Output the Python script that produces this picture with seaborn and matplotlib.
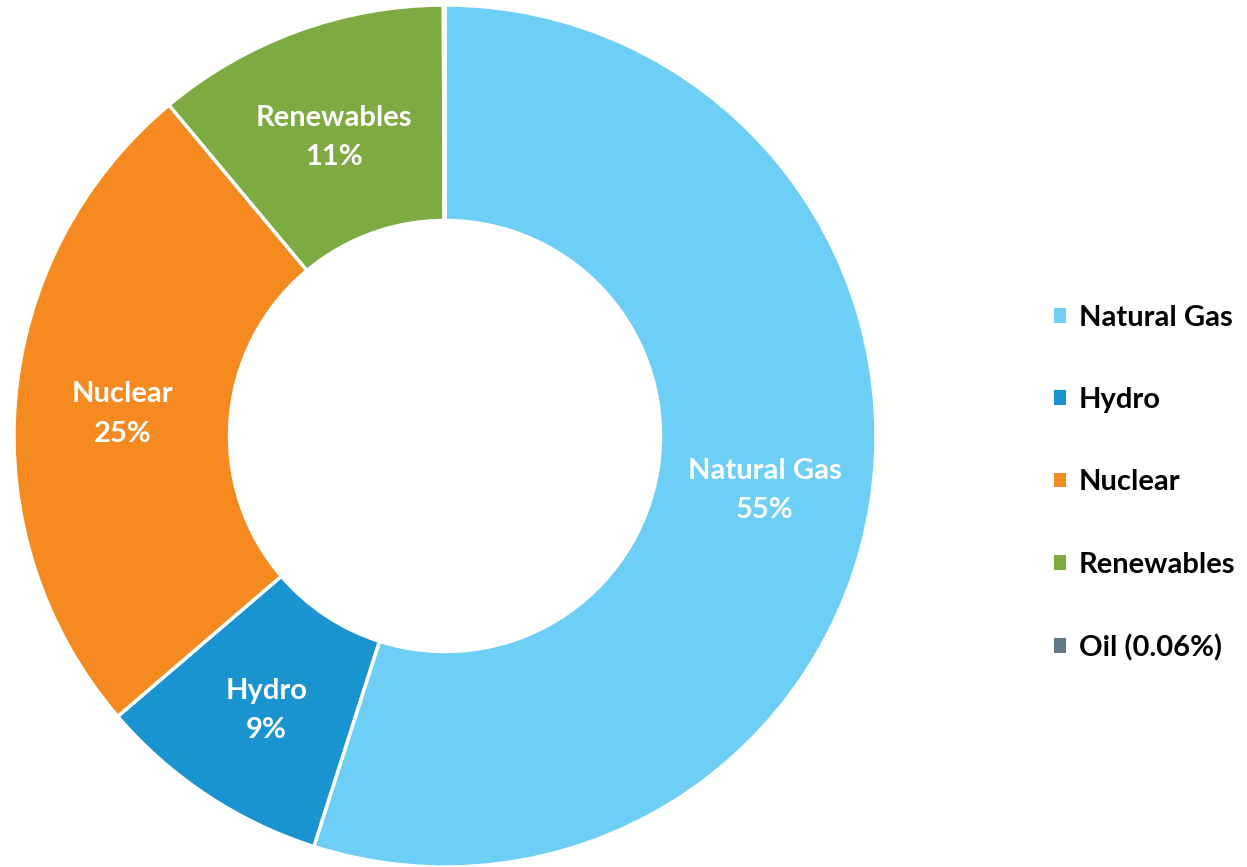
import matplotlib
matplotlib.use("Agg")
import matplotlib.pyplot as plt
import matplotlib.transforms as mtransforms
import seaborn as sns
from matplotlib.patches import Patch

sns.set_theme(style="white")
plt.rcParams['font.family'] = ['Lato', 'DejaVu Sans']

categories = ["Natural Gas", "Hydro", "Nuclear", "Renewables", "Oil"]
values = [54.9, 8.8, 25.2, 11.0, 0.06]
legend_labels = ["Natural Gas", "Hydro", "Nuclear", "Renewables", "Oil (0.06%)"]
slice_labels = ["Natural Gas\n55%", "Hydro\n9%", "Nuclear\n25%", "Renewables\n11%", ""]
colors = sns.color_palette(["#6DCFF6", "#1A94D1", "#F58A20", "#7DAB41", "#627985"])

fig = plt.figure(figsize=(12.47, 8.67), dpi=100)
ax = fig.add_axes([14/1247, 0.0, 862/1247, 862/867])

wedges, texts = ax.pie(values, colors=colors, startangle=90, counterclock=False,
                       labels=slice_labels, labeldistance=0.75,
                       wedgeprops=dict(width=0.5, edgecolor="white", linewidth=2.5),
                       textprops=dict(color="white", fontsize=21, fontweight="bold",
                                      ha="center", va="center", linespacing=1.62))
# nudge labels slightly downward to match the reference's vertical centring
shift = mtransforms.ScaledTranslation(0, -5 / 100, fig.dpi_scale_trans)
for t in texts:
    t.set_transform(t.get_transform() + shift)

ax.set_xlim(-1, 1)
ax.set_ylim(-1, 1)
ax.set_aspect("equal")
ax.axis("off")

handles = [Patch(facecolor=c, edgecolor="none") for c in colors]
fig.legend(handles, legend_labels, loc="center left", bbox_to_anchor=(1028/1247, 0.443),
           frameon=False, prop=dict(weight="bold", size=21), labelcolor="black",
           handlelength=0.4, handleheight=0.4, handletextpad=0.45, labelspacing=1.93)

fig.savefig("out.png", dpi=100, facecolor="white")
